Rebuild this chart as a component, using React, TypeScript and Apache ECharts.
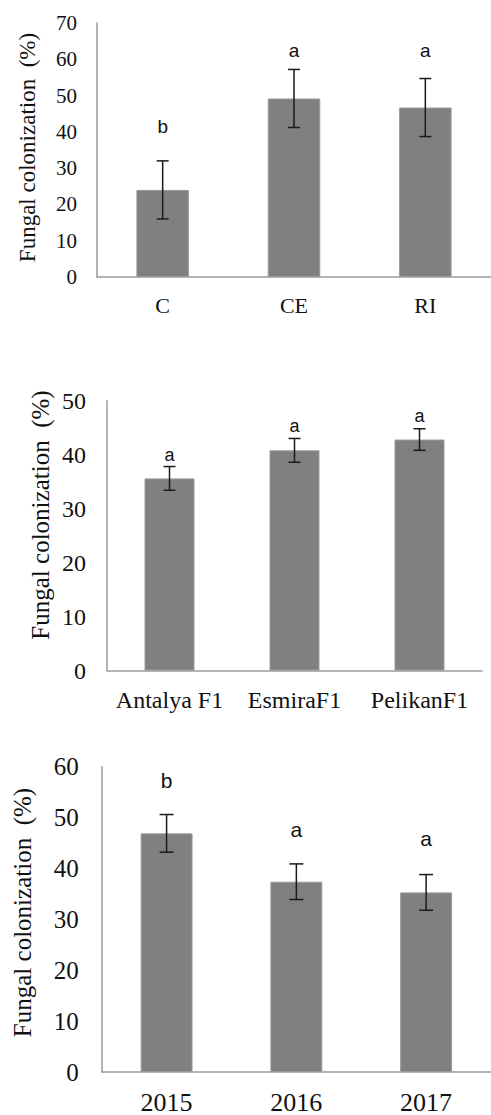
import React, { useEffect, useRef } from "react";
import * as echarts from "echarts";

// Panel 1
const cats1 = ["C", "CE", "RI"];
const means1 = [24, 49.2, 46.7];
const errs1 = [8, 8, 8];
const letters1 = ["b", "a", "a"];
const letterY1 = [41.6, 62.4, 62.4];
const yTicks1 = { min: 0, max: 70, interval: 10 };

// Panel 2
const cats2 = ["Antalya F1", "EsmiraF1", "PelikanF1"];
const means2 = [35.6, 40.8, 42.8];
const errs2 = [2.2, 2.2, 2.0];
const letters2 = ["a", "a", "a"];
const letterY2 = [40.0, 45.4, 47.2];
const yTicks2 = { min: 0, max: 50, interval: 10 };

// Panel 3
const cats3 = ["2015", "2016", "2017"];
const means3 = [46.9, 37.4, 35.3];
const errs3 = [3.7, 3.5, 3.5];
const letters3 = ["b", "a", "a"];
const letterY3 = [57.2, 47.6, 45.9];
const yTicks3 = { min: 0, max: 60, interval: 10 };

const yTitle = "Fungal colonization  (%)";

const SERIF = '"Liberation Serif", "Times New Roman", serif';
const SANS = '"Liberation Sans", Arial, sans-serif';

export default function App() {
  const ref = useRef<HTMLDivElement>(null);

  useEffect(() => {
    if (!ref.current) return;
    const chart = echarts.init(ref.current, null, { renderer: "svg" });

    const panels = [
      { cats: cats1, means: means1, errs: errs1, letters: letters1, letterY: letterY1, ticks: yTicks1,
        grid: { left: 97, top: 23, width: 394, height: 254 }, tickFs: 21, catFs: 22, yMargin: 20, xMargin: 17,
        letterFs: 19, cap: 6 },
      { cats: cats2, means: means2, errs: errs2, letters: letters2, letterY: letterY2, ticks: yTicks2,
        grid: { left: 107, top: 400.7, width: 375, height: 269.8 }, tickFs: 24, catFs: 24, yMargin: 21, xMargin: 17,
        letterFs: 18, cap: 6 },
      { cats: cats3, means: means3, errs: errs3, letters: letters3, letterY: letterY3, ticks: yTicks3,
        grid: { left: 101.7, top: 766.7, width: 393, height: 305.6 }, tickFs: 25, catFs: 26, yMargin: 23, xMargin: 17,
        letterFs: 21, cap: 7 },
    ];

    const grid: any[] = [];
    const xAxis: any[] = [];
    const yAxis: any[] = [];
    const series: any[] = [];

    panels.forEach((p, i) => {
      grid.push({ ...p.grid, containLabel: false });
      xAxis.push({
        type: "category",
        gridIndex: i,
        data: p.cats,
        axisLine: { show: true, lineStyle: { color: "#9a9a9a", width: 1.5 } },
        axisTick: { show: false },
        axisLabel: { color: "#111", fontFamily: SERIF, fontSize: p.catFs, margin: p.xMargin, interval: 0 },
        splitLine: { show: false },
      });
      yAxis.push({
        type: "value",
        gridIndex: i,
        min: p.ticks.min,
        max: p.ticks.max,
        interval: p.ticks.interval,
        axisLine: { show: true, lineStyle: { color: "#9a9a9a", width: 1.5 } },
        axisTick: { show: false },
        axisLabel: { color: "#111", fontFamily: SERIF, fontSize: p.tickFs, margin: p.yMargin },
        splitLine: { show: false },
      });
      series.push({
        type: "bar",
        xAxisIndex: i,
        yAxisIndex: i,
        data: p.means,
        barWidth: "40%",
        itemStyle: { color: "#808080", borderColor: "#9a9a9a", borderWidth: 1 },
      });
      const cap = p.cap;
      series.push({
        type: "custom",
        xAxisIndex: i,
        yAxisIndex: i,
        data: p.means.map((m, k) => [k, m, p.errs[k]]),
        encode: { x: 0, y: 1 },
        z: 5,
        renderItem: (params: any, api: any) => {
          const x = api.value(0);
          const y = api.value(1);
          const e = api.value(2);
          const top = api.coord([x, y + e]);
          const bot = api.coord([x, y - e]);
          const st = { stroke: "#1a1a1a", lineWidth: 1.5 };
          return {
            type: "group",
            children: [
              { type: "line", shape: { x1: top[0], y1: top[1], x2: bot[0], y2: bot[1] }, style: st },
              { type: "line", shape: { x1: top[0] - cap, y1: top[1], x2: top[0] + cap, y2: top[1] }, style: st },
              { type: "line", shape: { x1: bot[0] - cap, y1: bot[1], x2: bot[0] + cap, y2: bot[1] }, style: st },
            ],
          };
        },
      });
      const fs = p.letterFs;
      const letters = p.letters;
      series.push({
        type: "custom",
        xAxisIndex: i,
        yAxisIndex: i,
        data: p.letterY.map((v, k) => [k, v]),
        encode: { x: 0, y: 1 },
        z: 6,
        renderItem: (params: any, api: any) => {
          const pt = api.coord([api.value(0), api.value(1)]);
          return {
            type: "text",
            x: pt[0],
            y: pt[1],
            style: {
              text: letters[params.dataIndex],
              fill: "#111",
              font: `${fs}px ${SANS}`,
              align: "center",
              verticalAlign: "middle",
            },
          };
        },
      });
    });

    const titles = [
      { x: 27, y: 147.5, fs: 23 },
      { x: 40, y: 515, fs: 25 },
      { x: 22.5, y: 912.5, fs: 25 },
    ];

    chart.setOption({
      animation: false,
      backgroundColor: "#fff",
      grid,
      xAxis,
      yAxis,
      series,
      graphic: titles.map((t) => ({
        type: "text",
        x: t.x,
        y: t.y,
        rotation: Math.PI / 2,
        style: {
          text: yTitle,
          fill: "#111",
          font: `${t.fs}px ${SERIF}`,
          align: "center",
          verticalAlign: "middle",
          textAlign: "center",
          textVerticalAlign: "middle",
        },
      })),
    });

    return () => chart.dispose();
  }, []);

  return (
    <div
      ref={ref}
      style={{ position: "absolute", left: 0, top: 0, width: 491, height: 1115, background: "#fff" }}
    />
  );
}
